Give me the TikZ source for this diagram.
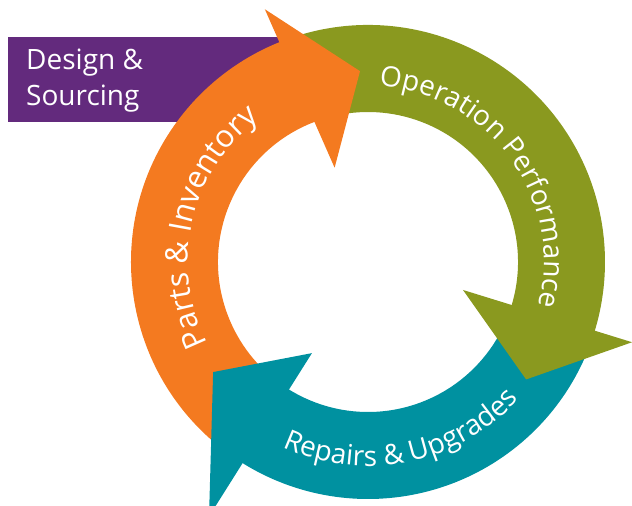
\documentclass[tikz,border=0pt]{standalone}
\usepackage{fontspec}
\setmainfont{Open Sans}
\usetikzlibrary{decorations.text}
\definecolor{sourcingpurple}{RGB}{99,42,125}
\definecolor{partsorange}{RGB}{244,122,32}
\definecolor{operationgreen}{RGB}{138,153,31}
\definecolor{repairsteal}{RGB}{0,145,160}

\begin{document}
\begin{tikzpicture}[x=1pt,y=1pt,
  arclabel/.style={decorate,decoration={text along path,text align=center,text color=white}}]
  \useasboundingbox (-368,-244) rectangle (264,262);
  \clip (-368,-244) rectangle (264,262);

  % design box behind the cycle
  \fill[sourcingpurple] (-360,225) rectangle (-78,140);
  \node[anchor=north west,align=left,inner sep=0pt,text=white,
    font=\fontsize{28}{36}\selectfont] (design) at (-342,213) {Design \&\\Sourcing};

  % shafts of the three arrows (ends run on under the heads)
  \fill[partsorange] (232:237) arc[start angle=232,end angle=109.5,radius=237]
    -- (109.5:150) arc[start angle=109.5,end angle=232,radius=150] -- cycle;
  \fill[operationgreen] (107:237) arc[start angle=107,end angle=-18.5,radius=237]
    -- (-18.5:150) arc[start angle=-18.5,end angle=107,radius=150] -- cycle;
  \fill[repairsteal] (-22:237) arc[start angle=-22,end angle=-124,radius=237]
    -- (-124:150) arc[start angle=-124,end angle=-22,radius=150] -- cycle;

  % heads
  \fill[partsorange] (109.5:100) -- (112.2:273) -- (92.4:191) -- cycle;
  \fill[operationgreen] (-16.4:99) -- (-16.9:276) -- (-36.6:197) -- cycle;
  \fill[repairsteal] (238.4:107) -- (238:300) -- (215.4:190) -- cycle;

  % labels on the arcs
  \path[arclabel,decoration={text={|\fontsize{31}{31}\selectfont|Parts {\&} Inventory}}]
    (227:180) arc[start angle=227,end angle=107,radius=180];
  \path[arclabel,decoration={text={|\fontsize{28}{28}\selectfont|Operation Performance}}]
    (96:176) arc[start angle=96,end angle=-24,radius=176];
  \path[arclabel,decoration={text={|\fontsize{28}{28}\selectfont|Repairs {\&} Upgrades}}]
    (231.5:204) arc[start angle=231.5,end angle=331.5,radius=204];
\end{tikzpicture}
\end{document}
